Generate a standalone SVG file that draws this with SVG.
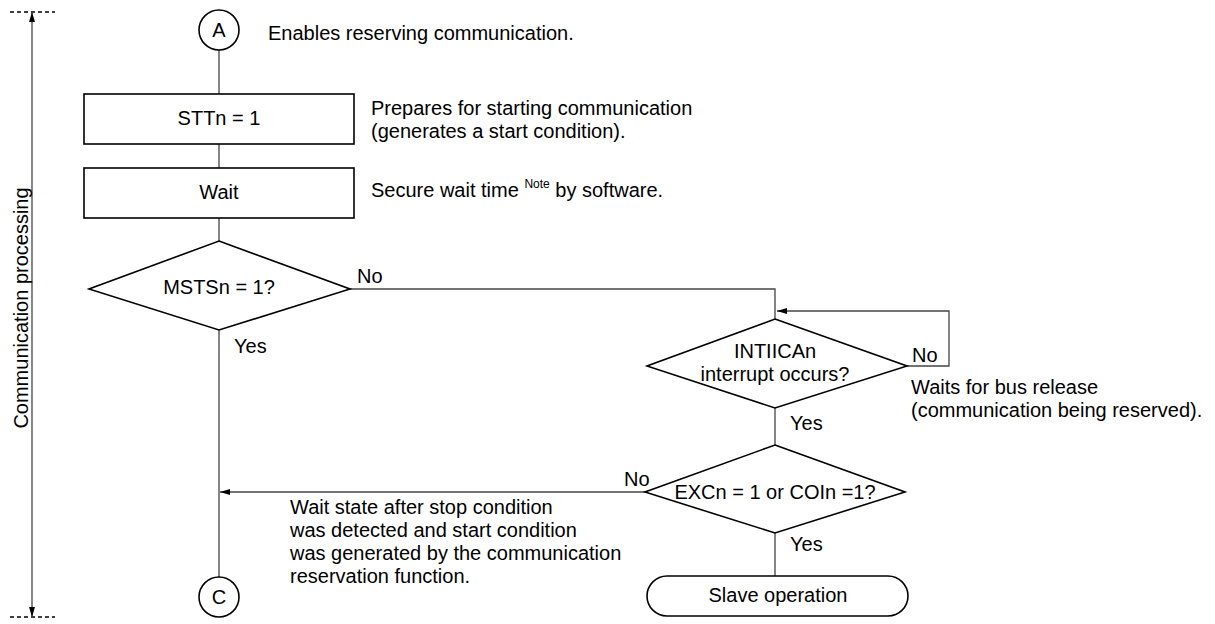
<svg xmlns="http://www.w3.org/2000/svg" width="1215" height="624" viewBox="0 0 1215 624">
<style>
text{font-family:"Liberation Sans",Arial,sans-serif;font-size:20px;fill:#000}
.c{text-anchor:middle}
.sh{fill:#fff;stroke:#000;stroke-width:1.6}
.ln{fill:none;stroke:#444;stroke-width:1.3}
.ds{fill:none;stroke:#000;stroke-width:1.3;stroke-dasharray:4,3}
</style>
<defs>
<marker id="ah" viewBox="0 0 10 6" refX="10" refY="3" markerWidth="10" markerHeight="6" markerUnits="userSpaceOnUse" orient="auto">
<path d="M0,0L10,3L0,6z" fill="#000"/>
</marker>
</defs>
<g id="connectors">
<line class="ds" x1="10" y1="12" x2="55" y2="12"/>
<line class="ds" x1="10" y1="617" x2="55" y2="617"/>
<line class="ln" x1="32" y1="310" x2="32" y2="12" marker-end="url(#ah)"/>
<line class="ln" x1="32" y1="310" x2="32" y2="617" marker-end="url(#ah)"/>
<line class="ln" x1="219" y1="50" x2="219" y2="94"/>
<line class="ln" x1="219" y1="144" x2="219" y2="168"/>
<line class="ln" x1="219" y1="218" x2="219" y2="241"/>
<line class="ln" x1="219" y1="330" x2="219" y2="577"/>
<polyline class="ln" points="350,289 775,289 775,319"/>
<polyline class="ln" points="907,366 949,366 949,311 777,311" marker-end="url(#ah)"/>
<line class="ln" x1="775" y1="408" x2="775" y2="445"/>
<line class="ln" x1="645" y1="492" x2="220" y2="492" marker-end="url(#ah)"/>
<line class="ln" x1="775" y1="533" x2="775" y2="577"/>
</g>
<g id="label-side"><text class="c" transform="translate(28,308) rotate(-90)">Communication processing</text></g>
<g id="nodeA"><circle class="sh" cx="219" cy="30" r="20"/><text class="c" x="219" y="37">A</text></g>
<g id="noteA"><text x="268" y="40">Enables reserving communication.</text></g>
<g id="stt"><rect class="sh" x="84" y="94" width="270" height="50"/><text class="c" x="219" y="125">STTn = 1</text></g>
<g id="noteStt"><text x="371" y="115">Prepares for starting communication</text><text x="371" y="138">(generates a start condition).</text></g>
<g id="wait"><rect class="sh" x="84" y="168" width="270" height="50"/><text class="c" x="219" y="199">Wait</text></g>
<g id="noteWait"><text x="371" y="197">Secure wait time <tspan font-size="12" dy="-9">Note</tspan><tspan dy="9"> by software.</tspan></text></g>
<g id="msts"><polygon class="sh" points="219,241 350,289 219,330 89,289"/><text class="c" x="219" y="294">MSTSn = 1?</text></g>
<text x="357" y="283">No</text>
<text x="234" y="353">Yes</text>
<g id="intiica"><polygon class="sh" points="775,319 907,366 775,408 647,366"/><text class="c" x="775" y="358">INTIICAn</text><text class="c" x="775" y="381">interrupt occurs?</text></g>
<text x="912" y="362">No</text>
<g id="noteInt"><text x="911" y="394">Waits for bus release</text><text x="911" y="417">(communication being reserved).</text></g>
<text x="790" y="430">Yes</text>
<g id="exc"><polygon class="sh" points="775,445 905,492 775,533 645,492"/><text class="c" x="775" y="499">EXCn = 1 or COIn =1?</text></g>
<text x="624" y="486">No</text>
<text x="790" y="551">Yes</text>
<g id="noteExc"><text x="290" y="514">Wait state after stop condition</text><text x="290" y="537">was detected and start condition</text><text x="290" y="560">was generated by the communication</text><text x="290" y="583">reservation function.</text></g>
<g id="slave"><rect class="sh" x="647" y="576" width="261" height="40" rx="20"/><text class="c" x="778" y="602">Slave operation</text></g>
<g id="nodeC"><circle class="sh" cx="219" cy="597" r="20"/><text class="c" x="219" y="604">C</text></g>
</svg>
